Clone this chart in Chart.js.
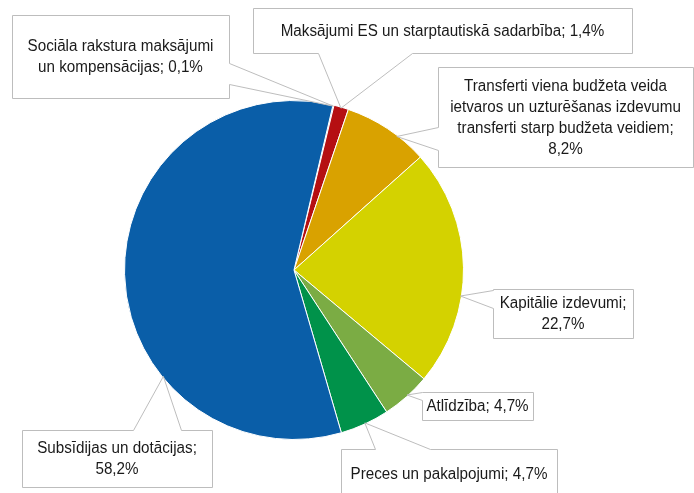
<!DOCTYPE html>
<html><head><meta charset="utf-8">
<script src="https://cdn.jsdelivr.net/npm/chart.js@4/dist/chart.umd.min.js"></script>
<style>html,body{margin:0;padding:0;background:#fff;} #wrap{width:694px;height:493px;position:relative;}</style>
</head><body><div id="wrap"><canvas id="c" width="694" height="493"></canvas></div>
<script>
const categories = [
  "Sociāla rakstura maksājumi un kompensācijas",
  "Maksājumi ES un starptautiskā sadarbība",
  "Transferti viena budžeta veida ietvaros un uzturēšanas izdevumu transferti starp budžeta veidiem",
  "Kapitālie izdevumi",
  "Atlīdzība",
  "Preces un pakalpojumi",
  "Subsīdijas un dotācijas"
];
const shares = [0.1, 1.4, 8.2, 22.7, 4.7, 4.7, 58.2];
const sliceColors = ["#A6A6A6", "#B50F12", "#D9A200", "#D4D200", "#7BAC44", "#00924A", "#0A5EA8"];

// callout layout: box [x0,y0,x1,y1], edge with pointer base, fraction along slice for tip, words per line
const callouts = [
  {box:[12,15,229,98],  edge:"right",  base:[63,84],   frac:0.5,  words:[3,3]},
  {box:[253,8,632,53],  edge:"bottom", base:[318,412], frac:0.5,  words:[99]},
  {box:[438,67,693,167],edge:"left",   base:[127,150], frac:0.64, words:[4,4,4,1]},
  {box:[493,289,633,338],edge:"left",  base:[290,308], frac:0.62, words:[2,1]},
  {box:[422,392,533,420],edge:"left",  base:[392,400], frac:0.47, words:[99]},
  {box:[341,449,557,501],edge:"top",   base:[375,430], frac:0.49, words:[99], textY:475},
  {box:[22,430,212,487], edge:"top",   base:[133,181], frac:0.32, words:[3,1]}
];

function fmt(v){ return v.toFixed(1).replace(".", ","); }

const calloutPlugin = {
  id: "callouts",
  afterDatasetsDraw(chart){
    const ctx = chart.ctx;
    const arcs = chart.getDatasetMeta(0).data;
    ctx.save();
    callouts.forEach((c, i) => {
      const arc = arcs[i];
      const a = arc.startAngle + (arc.endAngle - arc.startAngle) * c.frac;
      const r = arc.outerRadius - 1;
      const tx = arc.x + Math.cos(a) * r, ty = arc.y + Math.sin(a) * r;
      const [x0,y0,x1,y1] = c.box.map(v => Math.round(v) + 0.5);
      const [b0,b1] = c.base.map(v => Math.round(v) + 0.5);
      ctx.beginPath();
      if (c.edge === "right") {
        ctx.moveTo(x0,y0); ctx.lineTo(x1,y0); ctx.lineTo(x1,b0); ctx.lineTo(tx,ty); ctx.lineTo(x1,b1);
        ctx.lineTo(x1,y1); ctx.lineTo(x0,y1);
      } else if (c.edge === "left") {
        ctx.moveTo(x0,y0); ctx.lineTo(x1,y0); ctx.lineTo(x1,y1); ctx.lineTo(x0,y1);
        ctx.lineTo(x0,b1); ctx.lineTo(tx,ty); ctx.lineTo(x0,b0);
      } else if (c.edge === "bottom") {
        ctx.moveTo(x0,y0); ctx.lineTo(x1,y0); ctx.lineTo(x1,y1); ctx.lineTo(b1,y1);
        ctx.lineTo(tx,ty); ctx.lineTo(b0,y1); ctx.lineTo(x0,y1);
      } else {
        ctx.moveTo(x0,y0); ctx.lineTo(b0,y0); ctx.lineTo(tx,ty); ctx.lineTo(b1,y0);
        ctx.lineTo(x1,y0); ctx.lineTo(x1,y1); ctx.lineTo(x0,y1);
      }
      ctx.closePath();
      ctx.fillStyle = "#ffffff";
      ctx.fill();
      ctx.strokeStyle = "#BDBDBD";
      ctx.lineWidth = 1;
      ctx.stroke();

      // text
      const label = chart.data.labels[i] + "; " + fmt(chart.data.datasets[0].data[i]) + "%";
      const words = label.split(" ");
      const lines = [];
      let k = 0;
      c.words.forEach(n => { if (k < words.length) { lines.push(words.slice(k, k+n).join(" ")); k += n; } });
      const lh = 21;
      const cx = (c.box[0] + c.box[2]) / 2;
      const cy = c.textY !== undefined ? c.textY : (c.box[1] + c.box[3]) / 2 + 1;
      ctx.fillStyle = "#1A1A1A";
      ctx.font = "16px 'Liberation Sans', Arial, sans-serif";
      ctx.textAlign = "center";
      ctx.textBaseline = "middle";
      lines.forEach((ln, j) => {
        const y = cy + (j - (lines.length - 1) / 2) * lh;
        ctx.save();
        ctx.translate(cx, y);
        ctx.scale(0.95, 1);
        ctx.fillText(ln, 0, 0);
        ctx.restore();
      });
    });
    ctx.restore();
  }
};

new Chart(document.getElementById("c"), {
  type: "pie",
  data: {
    labels: categories,
    datasets: [{
      data: shares,
      backgroundColor: sliceColors,
      borderColor: "#ffffff",
      borderWidth: 1,
      hoverOffset: 0
    }]
  },
  options: {
    responsive: false,
    animation: false,
    events: [],
    rotation: 13.3,
    layout: { padding: { top: 100, bottom: 53, left: 124, right: 230 } },
    plugins: { legend: { display: false }, tooltip: { enabled: false } }
  },
  plugins: [calloutPlugin]
});
</script>
</body></html>
